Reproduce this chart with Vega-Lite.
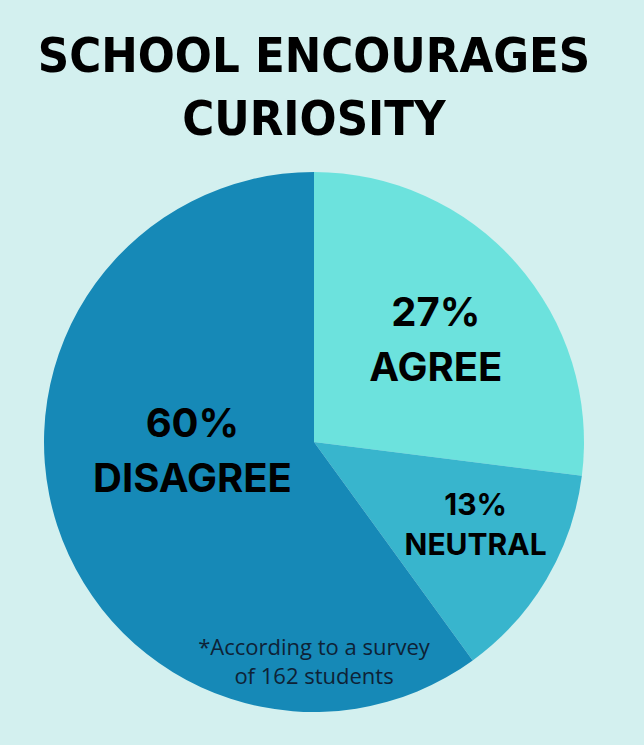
{
  "$schema": "https://vega.github.io/schema/vega-lite/v6.json",
  "autosize": "none",
  "width": 628,
  "height": 540,
  "padding": {"top": 172, "left": 0, "right": 16, "bottom": 33},
  "background": "#D3F0EF",
  "config": {"view": {"stroke": null}},
  "title": {
    "text": ["SCHOOL ENCOURAGES", "CURIOSITY"],
    "anchor": "middle",
    "font": "DejaVu Sans Condensed",
    "fontWeight": "bold",
    "fontSize": 48.5,
    "lineHeight": 63,
    "color": "#000000",
    "offset": 27
  },
  "data": {
    "values": [
      {"response": "AGREE", "rank": 1, "percent": 27, "label": "27%\nAGREE"},
      {"response": "NEUTRAL", "rank": 2, "percent": 13, "label": "13%\nNEUTRAL"},
      {"response": "DISAGREE", "rank": 3, "percent": 60, "label": "60%\nDISAGREE"}
    ]
  },
  "layer": [
    {
      "mark": {"type": "arc", "stroke": null},
      "encoding": {
        "theta": {"field": "percent", "type": "quantitative", "stack": true},
        "order": {"field": "rank", "type": "quantitative", "sort": "ascending"},
        "color": {
          "field": "response",
          "type": "nominal",
          "scale": {"domain": ["AGREE", "NEUTRAL", "DISAGREE"], "range": ["#6CE2DD", "#38B5CD", "#1689B7"]},
          "legend": null
        }
      }
    },
    {
      "transform": [{"filter": "datum.response === 'AGREE'"}],
      "mark": {"type": "text", "theta": 0.880, "radius": 158, "dy": -27, "font": "Inter", "fontWeight": "bold", "fontSize": 40, "lineHeight": 55, "lineBreak": "\n", "color": "#000000", "align": "center", "baseline": "middle"},
      "encoding": {"text": {"field": "label"}}
    },
    {
      "transform": [{"filter": "datum.response === 'NEUTRAL'"}],
      "mark": {"type": "text", "theta": 2.049, "radius": 182, "dy": -20, "font": "Inter", "fontWeight": "bold", "fontSize": 30, "lineHeight": 40, "lineBreak": "\n", "color": "#000000", "align": "center", "baseline": "middle"},
      "encoding": {"text": {"field": "label"}}
    },
    {
      "transform": [{"filter": "datum.response === 'DISAGREE'"}],
      "mark": {"type": "text", "theta": 4.630, "radius": 122, "dy": -27, "font": "Inter", "fontWeight": "bold", "fontSize": 40, "lineHeight": 55, "lineBreak": "\n", "color": "#000000", "align": "center", "baseline": "middle"},
      "encoding": {"text": {"field": "label"}}
    },
    {
      "data": {"values": [{"note": "*According to a survey\nof 162 students"}]},
      "mark": {"type": "text", "theta": 3.14159, "radius": 220, "dy": -14, "font": "Open Sans", "fontSize": 22, "lineHeight": 29, "lineBreak": "\n", "color": "#0E2236", "align": "center", "baseline": "middle"},
      "encoding": {"text": {"field": "note"}}
    }
  ]
}
